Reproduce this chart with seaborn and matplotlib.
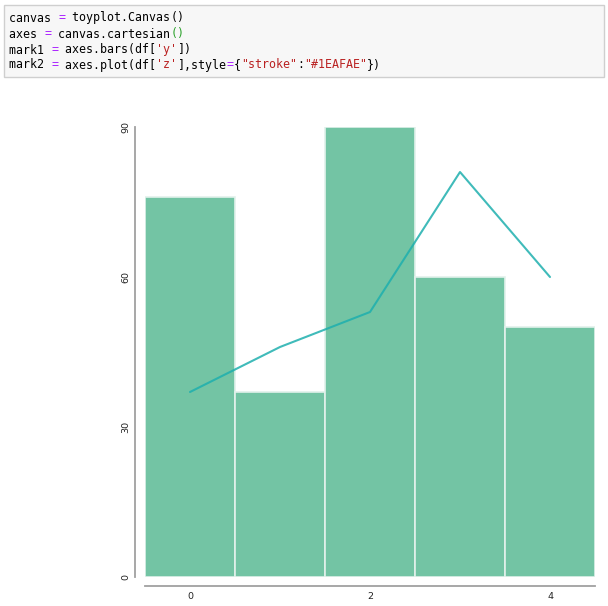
import matplotlib
matplotlib.use("Agg")
import matplotlib.pyplot as plt
import seaborn as sns
import pandas as pd
from matplotlib.patches import Rectangle

# ---- data ----
x_index = [0, 1, 2, 3, 4]
y_values = [76, 37, 90, 60, 50]
z_values = [37, 46, 53, 81, 60]
x_ticks = [0, 2, 4]
y_ticks = [0, 30, 60, 90]

# code cell lines: list of (text, color) segments
code_lines = [
    [("canvas ", "#000000"), ("=", "#aa22ff"), (" toyplot.Canvas", "#000000"), ("()", "#000000")],
    [("axes ", "#000000"), ("=", "#aa22ff"), (" canvas.cartesian", "#000000"), ("()", "#2aa12a")],
    [("mark1 ", "#000000"), ("=", "#aa22ff"), (" axes.bars(df[", "#000000"), ("'y'", "#ba2121"), ("])", "#000000")],
    [("mark2 ", "#000000"), ("=", "#aa22ff"), (" axes.plot(df[", "#000000"), ("'z'", "#ba2121"),
     ("],style", "#000000"), ("=", "#aa22ff"), ("{", "#000000"), ('"stroke"', "#ba2121"),
     (":", "#000000"), ('"#1EAFAE"', "#ba2121"), ("})", "#000000")],
]

df = pd.DataFrame({"x": x_index, "y": y_values, "z": z_values})

W, H = 608, 606
DPI = 100
sns.set_style("white")
fig = plt.figure(figsize=(W / DPI, H / DPI), dpi=DPI)
fig.patch.set_facecolor("white")

# ---- code cell ----
def px(xp, yp):
    return xp / W, 1 - yp / H

cell = Rectangle(px(4, 77), 600 / W, 72 / H, transform=fig.transFigure,
                 facecolor="#f7f7f7", edgecolor="#cfcfcf", linewidth=1.0)
fig.patches.append(cell)

fs = 8.4
char_w = 0.602 * fs * DPI / 72.0
line_y = [18, 34, 50, 65]
for segs, ly in zip(code_lines, line_y):
    col = 0
    for text, color in segs:
        fig.text(*px(9 + col * char_w, ly), text, color=color, fontsize=fs,
                 family="DejaVu Sans Mono", va="center", ha="left")
        col += len(text)

# ---- chart ----
left, right = 145, 595
top, bottom = 127, 577
ax = fig.add_axes([left / W, 1 - bottom / H, (right - left) / W, (bottom - top) / H])

sns.barplot(data=df, x="x", y="y", ax=ax, color="#73c4a4", saturation=1,
            width=1.0, edgecolor="#e2f1eb", linewidth=1.2)
sns.lineplot(data=df, x="x", y="z", ax=ax, color="#1eafae", alpha=0.85,
             linewidth=1.5)

ax.set_xlim(-0.5, 4.5)
ax.set_ylim(0, 90)
ax.set_xlabel("")
ax.set_ylabel("")
ax.set_xticks(x_ticks, [str(t) for t in x_ticks])
ax.set_yticks(y_ticks, [str(t) for t in y_ticks])
ax.tick_params(axis="both", length=0, labelsize=6.8, labelcolor="#222222")
ax.tick_params(axis="y", pad=3.5, labelrotation=90)
ax.tick_params(axis="x", pad=4.5)

for s in ["top", "right"]:
    ax.spines[s].set_visible(False)
ax.spines["left"].set_position(("outward", 6.9))
ax.spines["bottom"].set_position(("outward", 6.3))
for s in ["left", "bottom"]:
    ax.spines[s].set_color("#a0a0a0")
    ax.spines[s].set_linewidth(1.3)
ax.patch.set_alpha(0)

fig.canvas.draw()
for t in ax.yaxis.get_major_ticks():
    t.label1.set_verticalalignment("center")
    t.label1.set_horizontalalignment("right")
    t.label1.set_rotation(90)

fig.savefig("out.png", dpi=DPI, facecolor="white")
